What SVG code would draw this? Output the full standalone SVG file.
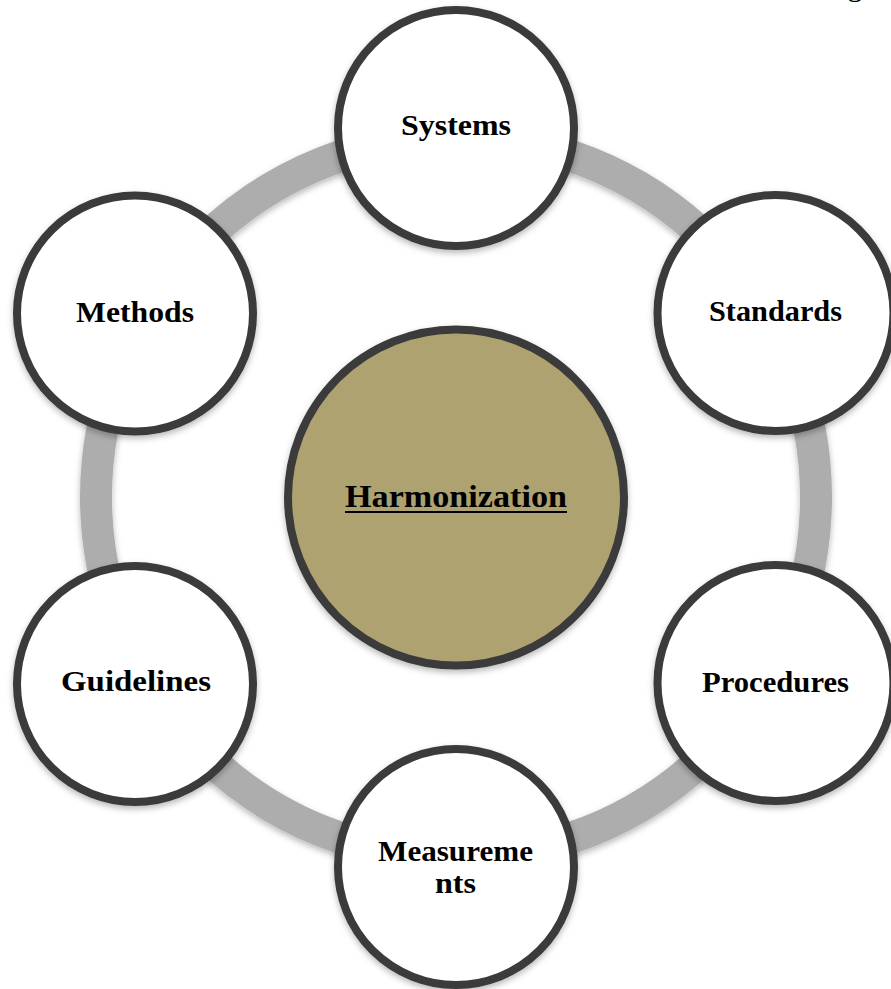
<svg xmlns="http://www.w3.org/2000/svg" width="891" height="989" viewBox="0 0 891 989">
  <defs>
    <filter id="sh" x="-20%" y="-20%" width="140%" height="140%">
      <feDropShadow dx="0" dy="3" stdDeviation="3" flood-color="#000" flood-opacity="0.28"/>
    </filter>
  </defs>
  <style>
    .node { fill: #ffffff; stroke: #3a3a3a; stroke-width: 8; filter: url(#sh); }
    .hub { fill: #ada270; stroke: #3a3a3a; stroke-width: 8; filter: url(#sh); }
    .ring { fill: none; stroke: #adadad; stroke-width: 32; filter: url(#sh); }
    .lbl { font-family: "Liberation Serif", "Times New Roman", serif; font-weight: bold; font-size: 29px; fill: #000; text-anchor: middle; }
    .hubl { font-family: "Liberation Serif", "Times New Roman", serif; font-weight: bold; font-size: 31px; fill: #000; text-anchor: middle; }
  </style>
  <rect width="891" height="989" fill="#ffffff"/>
  <text x="855" y="-4" style="font-family: 'Liberation Serif', serif; font-size: 30px; fill:#000; text-anchor: middle;">g</text>
  <g id="connectors">
    <circle class="ring" cx="456" cy="497" r="360"/>
  </g>
  <g id="hub">
    <circle class="hub" cx="456" cy="497.5" r="168"/>
    <text class="hubl" x="456" y="507" textLength="222" lengthAdjust="spacingAndGlyphs">Harmonization</text>
    <line x1="345" y1="512" x2="567" y2="512" stroke="#000" stroke-width="2"/>
  </g>
  <g id="systems">
    <circle class="node" cx="456" cy="128" r="118"/>
    <text class="lbl" x="456" y="135" textLength="110" lengthAdjust="spacingAndGlyphs">Systems</text>
  </g>
  <g id="standards">
    <circle class="node" cx="775.5" cy="313" r="118"/>
    <text class="lbl" x="775.5" y="321" textLength="133" lengthAdjust="spacingAndGlyphs">Standards</text>
  </g>
  <g id="procedures">
    <circle class="node" cx="775.5" cy="683" r="118"/>
    <text class="lbl" x="775.5" y="692" textLength="147" lengthAdjust="spacingAndGlyphs">Procedures</text>
  </g>
  <g id="measurements">
    <circle class="node" cx="456" cy="867" r="118"/>
    <text class="lbl" x="455.5" y="861" textLength="155" lengthAdjust="spacingAndGlyphs">Measureme</text>
    <text class="lbl" x="455.5" y="893" textLength="41" lengthAdjust="spacingAndGlyphs">nts</text>
  </g>
  <g id="guidelines">
    <circle class="node" cx="135" cy="684" r="118"/>
    <text class="lbl" x="136" y="691" textLength="150" lengthAdjust="spacingAndGlyphs">Guidelines</text>
  </g>
  <g id="methods">
    <circle class="node" cx="135" cy="313.5" r="118"/>
    <text class="lbl" x="135" y="322" textLength="118" lengthAdjust="spacingAndGlyphs">Methods</text>
  </g>
</svg>
